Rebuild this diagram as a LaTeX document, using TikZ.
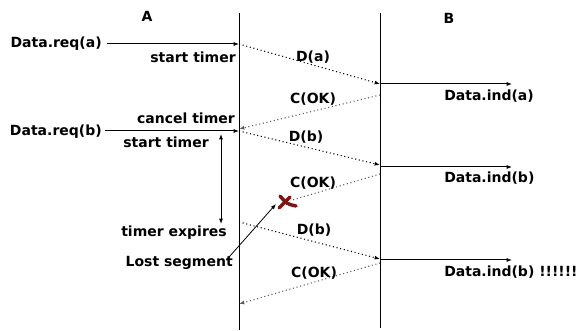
\documentclass[tikz,border=0pt]{standalone}
\usepackage{fontspec}
\setmainfont{DejaVu Sans}
\usetikzlibrary{arrows.meta}
\definecolor{lostmark}{HTML}{7F1414}
\definecolor{ackdots}{HTML}{5A5A5A}
\tikzset{
  lbl/.style={font=\bfseries\fontsize{10.5}{12}\selectfont, inner sep=0pt},
  lifeline/.style={line width=0.75pt},
  prim/.style={line width=0.75pt, -{Latex[length=4pt,width=3pt]}},
  frame/.style={dash pattern=on 0.8pt off 2pt, line width=0.8pt, -{Latex[length=4pt,width=3pt]}},
  ackframe/.style={frame, ackdots},
  timerspan/.style={line width=0.75pt, {Latex[length=4pt,width=3pt]}-{Latex[length=4pt,width=3pt]}},
}

\begin{document}
\begin{tikzpicture}[x=0.75pt, y=-0.75pt]
    \useasboundingbox (0,0) rectangle (585,331);
    % lifelines
    \node[lbl] (nameA) at (147,16) {A};
    \node[lbl] (nameB) at (449,18) {B};
    \coordinate (Atop) at (239,13);
    \coordinate (Abot) at (239,330);
    \coordinate (Btop) at (380,13);
    \coordinate (Bbot) at (380,328);
    \draw[lifeline] (Atop) -- (Abot);
    \draw[lifeline] (Btop) -- (Bbot);
    % points on the lifelines
    \coordinate (a1) at (239,44);
    \coordinate (b1) at (380,84);
    \coordinate (b2) at (380,95);
    \coordinate (a2) at (239,129);
    \coordinate (a3) at (239,131);
    \coordinate (b3) at (380,165);
    \coordinate (b3i) at (380,167);
    \coordinate (b4) at (380,174);
    \coordinate (a5) at (239,222);
    \coordinate (b5) at (380,259);
    \coordinate (b5i) at (380,260);
    \coordinate (b6) at (380,263);
    \coordinate (a6) at (239,304);
    \coordinate (lossx) at (287,202);
    % user side
    \node[lbl, anchor=east] (reqa) at (102,44) {Data.req(a)};
    \node[lbl, anchor=east] (starta) at (236,57) {start timer};
    \node[lbl, anchor=east] (cancel) at (235,118) {cancel timer};
    \node[lbl, anchor=east] (reqb) at (102,132) {Data.req(b)};
    \node[lbl, anchor=east] (startb) at (209,142) {start timer};
    \node[lbl, anchor=east] (expire) at (227,233) {timer expires};
    \node[lbl, anchor=east] (lost) at (233,263) {Lost segment};
    \draw[prim] ([xshift=3.75pt]reqa.east) -- (a1);
    \draw[prim] ([xshift=2.5pt]reqb.east |- a3) -- (a3);
    \coordinate (t1) at (221,134);
    \coordinate (t2) at (221,224);
    \draw[timerspan] (t1) -- (t2);
    % frames
    \draw[frame] (a1) -- (b1);
    \node[lbl] (da) at (313,57) {D(a)};
    \draw[ackframe] (b2) -- (a2);
    \node[lbl] (oka) at (313,99) {C(OK)};
    \draw[frame] (a3) -- (b3);
    \node[lbl] (db) at (306,137) {D(b)};
    \draw[ackframe, -] (b4) -- ([xshift=4pt,yshift=1.5pt]lossx);
    \node[lbl] (okb) at (313,183) {C(OK)};
    \draw[frame] (a5) -- (b5);
    \node[lbl] (dbb) at (314,230) {D(b)};
    \draw[ackframe] (b6) -- (a6);
    \node[lbl] (okc) at (314,273) {C(OK)};
    % lost ack
    \draw[lostmark, line width=2.6pt, line cap=round]
      ([shift={(-7,-6)}]lossx) .. controls ([shift={(0,2)}]lossx) .. ([shift={(9,4)}]lossx);
    \draw[lostmark, line width=2.4pt, line cap=round]
      ([shift={(3,-5)}]lossx) -- ([shift={(-8,6)}]lossx);
    \draw[prim, line width=0.6pt] ([xshift=-5pt,yshift=-3pt]lost.north east) -- ([shift={(-11,2)}]lossx);
    % provider side at B
    \coordinate (inda) at (512,84);
    \coordinate (indb) at (512,167);
    \coordinate (indc) at (512,260);
    \draw[prim] (b1) -- (inda);
    \draw[prim] (b3i) -- (indb);
    \draw[prim] (b5i) -- (indc);
    \node[lbl, anchor=west] (inda lbl) at (444,96) {Data.ind(a)};
    \node[lbl, anchor=west] (indb lbl) at (444,178) {Data.ind(b)};
    \node[lbl, anchor=west] (indc lbl) at (444,272) {Data.ind(b) !!!!!!};
  \end{tikzpicture}
\end{document}
